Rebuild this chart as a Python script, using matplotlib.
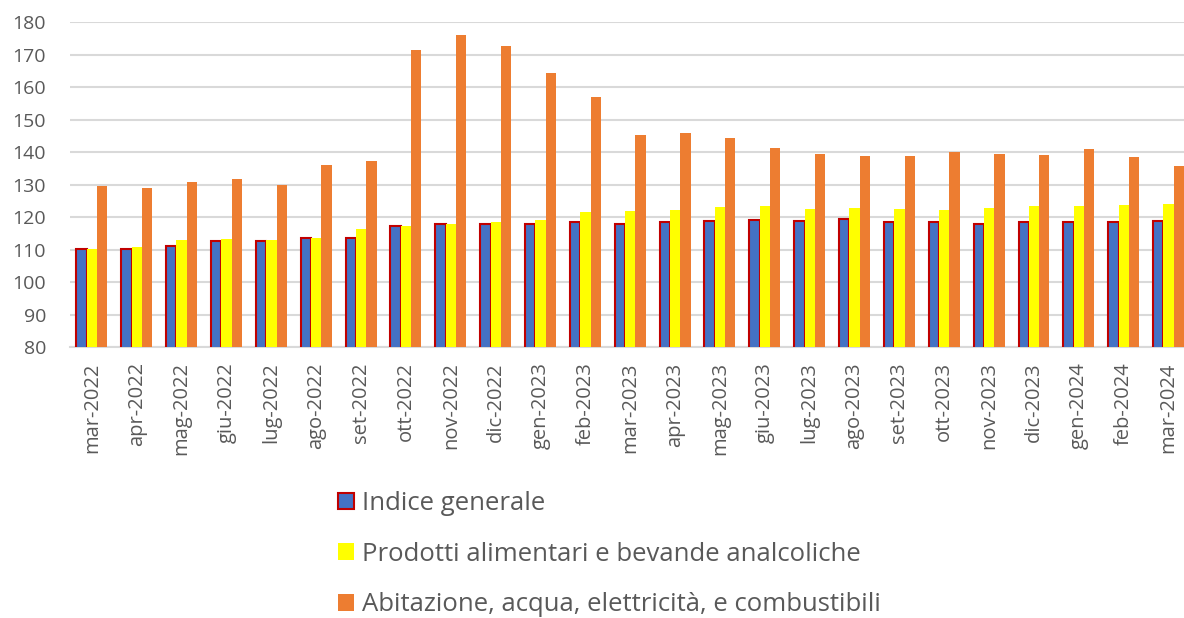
import matplotlib
matplotlib.use("Agg")
import matplotlib.pyplot as plt
import numpy as np
from matplotlib.patches import Patch

plt.rcParams['font.family'] = ['Open Sans', 'DejaVu Sans']

categories = ["mar-2022", "apr-2022", "mag-2022", "giu-2022", "lug-2022", "ago-2022",
              "set-2022", "ott-2022", "nov-2022", "dic-2022", "gen-2023", "feb-2023",
              "mar-2023", "apr-2023", "mag-2023", "giu-2023", "lug-2023", "ago-2023",
              "set-2023", "ott-2023", "nov-2023", "dic-2023", "gen-2024", "feb-2024",
              "mar-2024"]

indice_generale = [110.1, 110.1, 111.2, 112.5, 112.6, 113.4, 113.6, 117.1, 117.7, 117.8,
                   117.9, 118.6, 117.8, 118.4, 118.8, 119.1, 118.8, 119.3, 118.5, 118.5,
                   118.0, 118.5, 118.5, 118.5, 118.8]
alimentari = [110.3, 110.9, 113.0, 113.3, 112.8, 113.6, 116.3, 117.1, 117.9, 118.4,
              119.2, 121.5, 122.0, 122.3, 123.2, 123.3, 122.6, 122.9, 122.6, 122.2,
              122.9, 123.3, 123.4, 123.8, 124.1]
abitazione = [129.6, 128.9, 130.7, 131.7, 130.0, 136.0, 137.3, 171.5, 175.9, 172.6,
              164.4, 157.0, 145.3, 145.7, 144.4, 141.3, 139.5, 138.7, 138.9, 140.0,
              139.3, 139.1, 140.8, 138.4, 135.7]

series_labels = ["Indice generale",
                 "Prodotti alimentari e bevande analcoliche",
                 "Abitazione, acqua, elettricità, e combustibili"]

W, H = 1184, 618
fig = plt.figure(figsize=(W / 100, H / 100), dpi=100)
left, right, bottom, top = 69.5, 1191, 347, 22
ax = fig.add_axes([left / W, 1 - bottom / H, (right - left) / W, (bottom - top) / H])

x = np.arange(len(categories))
bw = 0.23
ax.bar(x - bw, indice_generale, bw, color="#4472C4", edgecolor="#C00000", linewidth=1.5, zorder=3)
ax.bar(x, alimentari, bw, color="#FFFF00", zorder=3)
ax.bar(x + bw, abitazione, bw, color="#ED7D31", zorder=3)

ax.set_xlim(-0.5, len(categories) - 0.5)
ax.set_ylim(80, 180)
ax.set_yticks(np.arange(80, 181, 10))
ax.yaxis.grid(True, color="#D9D9D9", linewidth=1.5, zorder=0)
ax.set_axisbelow(True)
for s in ["left", "right", "top"]:
    ax.spines[s].set_visible(False)
ax.spines["bottom"].set_color("#D9D9D9")
ax.spines["bottom"].set_linewidth(1.5)
ax.set_xticks(x)
ax.set_xticklabels(categories, rotation=90, fontsize=14.5, color="#595959")
ax.tick_params(axis="x", length=0, pad=11)
ax.tick_params(axis="y", length=0, pad=17, labelsize=14, labelcolor="#595959")

handles = [Patch(facecolor="#4472C4", edgecolor="#C00000", linewidth=1.5),
           Patch(facecolor="#FFFF00"),
           Patch(facecolor="#ED7D31")]
fig.legend(handles, series_labels, loc="upper left", bbox_to_anchor=(338 / W, 1 - 491 / H),
           frameon=False, fontsize=18.5, labelcolor="#595959", handlelength=0.62,
           handleheight=0.62, handletextpad=0.3, labelspacing=1.0, borderpad=0, borderaxespad=0)

fig.savefig("out.png", dpi=100)
